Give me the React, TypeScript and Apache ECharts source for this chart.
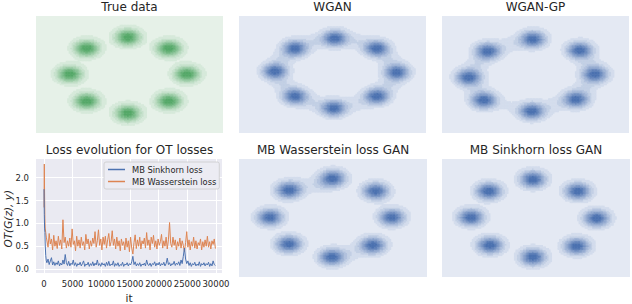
import React, { useEffect, useRef } from "react";
import * as echarts from "echarts";

// ---------- texts ----------
const panelTitles = [
  "True data",
  "WGAN",
  "WGAN-GP",
  "Loss evolution for OT losses",
  "MB Wasserstein loss GAN",
  "MB Sinkhorn loss GAN",
];
const seriesNames = ["MB Sinkhorn loss", "MB Wasserstein loss"];
const yAxisTitle = "OT(G(z), y)";
const xAxisTitle = "it";

// ---------- density panels (plane coordinates of the 8 gaussian modes) ----------
const planeX = [-3.2, 3.2];
const planeY = [-3.08, 3.08];

const trueModes = [
  [-0.05, 1.97], [1.35, 1.39], [1.97, 0.03], [1.35, -1.39],
  [-0.05, -2.03], [-1.46, -1.39], [-2.04, 0.03], [-1.46, 1.39],
];
const wganModes = [
  [0.09, 1.92], [1.52, 1.39], [2.21, 0.13], [1.52, -1.13],
  [0.05, -1.76], [-1.28, -1.13], [-1.97, 0.18], [-1.28, 1.39],
];
const wganBridges = [
  [0.85, 1.74, 0.14], [1.95, 0.8, 0.14], [1.95, -0.55, 0.14], [0.85, -1.52, 0.14],
  [-0.65, -1.52, 0.14], [-1.7, -0.5, 0.14], [-1.7, 0.85, 0.14], [-0.6, 1.74, 0.14],
];
const wganGpModes = [
  [-0.09, 1.87], [1.52, 1.29], [2.04, 0.03], [1.39, -1.29],
  [-0.12, -1.92], [-1.76, -1.34], [-2.28, -0.13], [-1.63, 1.24],
];
const wganGpBridges = [
  [-0.86, 1.58, 0.13], [-1.98, 0.58, 0.13], [1.8, 0.68, 0.12], [1.74, -0.63, 0.13],
  [0.64, -1.62, 0.13], [-0.94, -1.65, 0.08], [-2.04, -0.74, 0.1],
];
const mbWassModes = [
  [0.0, 2.08], [1.46, 1.41], [2.01, 0.05], [1.36, -1.41],
  [-0.03, -2.03], [-1.5, -1.35], [-2.14, 0.05], [-1.5, 1.46],
];
const mbWassBridges = [
  [-0.45, 1.72, 0.15], [0.66, -1.78, 0.12], [-1.15, 1.72, 0.08],
];
const mbSinkModes = [
  [-0.1, 2.03], [1.43, 1.41], [2.07, 0.0], [1.39, -1.46],
  [-0.1, -2.03], [-1.56, -1.41], [-2.21, 0.05], [-1.6, 1.41],
];
const modeSigmas = [0.29, 0.28, 0.29, 0.29, 0.29];
const bridgeSigma = 0.3;
const densityLevels = [0.08, 0.18, 0.28, 0.38, 0.48, 0.58, 0.68, 0.78, 0.88];

// ---------- loss curves ----------
const earlyIters = [0, 50, 100, 150, 200, 300, 400];
const lateIters = Array.from({ length: 148 }, (_, k) => 500 + 200 * k);
const lossIters = [...earlyIters, ...lateIters];

const sinkhornLoss = [
  1.75, 1.2, 0.88, 0.8, 0.55, 0.3, 0.18,
  0.14, 0.22, 0.10, 0.18, 0.25, 0.09, 0.16, 0.08, 0.14, 0.10,
  0.18, 0.07, 0.13, 0.09, 0.20, 0.11, 0.32, 0.14, 0.08, 0.17,
  0.07, 0.13, 0.10, 0.20, 0.08, 0.14, 0.06, 0.12, 0.09, 0.15,
  0.07, 0.12, 0.18, 0.06, 0.11, 0.09, 0.15, 0.06, 0.12, 0.08,
  0.16, 0.07, 0.13, 0.09, 0.20, 0.08, 0.12, 0.06, 0.14, 0.09,
  0.12, 0.06, 0.15, 0.08, 0.17, 0.07, 0.11, 0.09, 0.18, 0.06,
  0.12, 0.08, 0.14, 0.06, 0.10, 0.08, 0.15, 0.06, 0.11, 0.09,
  0.14, 0.07, 0.12, 0.09, 0.16, 0.28, 0.10, 0.16, 0.07, 0.12,
  0.08, 0.14, 0.06, 0.11, 0.09, 0.13, 0.07, 0.20, 0.10, 0.08,
  0.13, 0.06, 0.12, 0.10, 0.16, 0.07, 0.13, 0.09, 0.15, 0.07,
  0.12, 0.09, 0.15, 0.07, 0.12, 0.24, 0.10, 0.14, 0.07, 0.12,
  0.10, 0.17, 0.08, 0.13, 0.10, 0.16, 0.08, 0.20, 0.12, 0.28,
  0.46, 0.22, 0.12, 0.18, 0.08, 0.14, 0.06, 0.12, 0.09, 0.15,
  0.07, 0.11, 0.08, 0.16, 0.06, 0.12, 0.09, 0.14, 0.07, 0.12,
  0.09, 0.15, 0.06, 0.12, 0.07, 0.18, 0.10, 0.08,
];
const wassersteinLoss = [
  1.35, 2.3, 1.6, 1.1, 0.9, 0.8, 0.7,
  0.70, 0.48, 0.78, 0.55, 0.66, 0.42, 0.74, 0.50, 0.62, 0.45,
  0.72, 0.52, 0.64, 0.44, 1.08, 0.58, 0.70, 0.46, 0.62, 0.50,
  0.68, 0.48, 0.88, 0.54, 0.62, 0.40, 0.72, 0.50, 0.64, 0.46,
  0.70, 0.52, 0.60, 0.42, 0.76, 0.55, 0.66, 0.44, 0.62, 0.50,
  0.68, 0.56, 0.82, 0.48, 0.62, 0.86, 0.52, 0.66, 0.42, 0.70,
  0.54, 0.72, 0.46, 0.64, 0.78, 0.50, 0.60, 0.84, 0.52, 0.66,
  0.44, 0.70, 0.50, 0.62, 0.40, 0.66, 0.52, 0.60, 0.42, 0.68,
  0.48, 0.62, 0.38, 0.70, 0.46, 0.33, 0.58, 0.75, 0.45, 0.64,
  0.50, 0.70, 0.44, 0.62, 0.55, 0.68, 0.46, 0.80, 0.52, 0.64,
  0.42, 0.70, 0.56, 0.74, 0.48, 0.62, 0.44, 0.66, 0.52, 0.60,
  0.76, 0.46, 0.62, 0.50, 0.70, 0.44, 0.64, 1.02, 0.56, 0.48,
  0.70, 0.52, 0.64, 0.42, 0.60, 0.50, 0.68, 0.46, 0.62, 0.52,
  0.38, 0.58, 0.82, 0.48, 0.64, 0.42, 0.60, 0.50, 0.70, 0.46,
  0.62, 0.44, 0.58, 0.52, 0.66, 0.42, 0.60, 0.48, 0.64, 0.50,
  0.72, 0.48, 0.60, 0.44, 0.62, 0.54, 0.66, 0.45,
];
const xTicks = [0, 5000, 10000, 15000, 20000, 25000, 30000];
const yTicks = [0, 0.5, 1, 1.5, 2];

// ---------- helpers ----------
const NX = 125;
const NY = 78;

function kdeGrid(modes: number[][], sigma: number, bridges: number[][]) {
  const raw: number[][] = [];
  let max = 0;
  for (let j = 0; j < NY; j++) {
    const y = planeY[0] + ((j + 0.5) * (planeY[1] - planeY[0])) / NY;
    for (let i = 0; i < NX; i++) {
      const x = planeX[0] + ((i + 0.5) * (planeX[1] - planeX[0])) / NX;
      let v = 0;
      for (const m of modes) {
        const d2 = (x - m[0]) ** 2 + (y - m[1]) ** 2;
        v += Math.exp(-d2 / (2 * sigma * sigma));
      }
      for (const b of bridges) {
        const d2 = (x - b[0]) ** 2 + (y - b[1]) ** 2;
        v += b[2] * Math.exp(-d2 / (2 * bridgeSigma * bridgeSigma));
      }
      raw.push([i, j, v]);
      if (v > max) max = v;
    }
  }
  return raw
    .map((c) => [c[0], c[1], c[2] / max])
    .filter((c) => c[2] >= densityLevels[0]);
}

function hex(c: string) {
  return [1, 3, 5].map((k) => parseInt(c.slice(k, k + 2), 16));
}
function mix(a: string, b: string, t: number) {
  const A = hex(a);
  const B = hex(b);
  const r = A.map((v, k) => Math.round(v + (B[k] - v) * t));
  return `rgb(${r[0]},${r[1]},${r[2]})`;
}
function pieces(bg: string, full: string) {
  return densityLevels.map((lv, k) => ({
    gte: lv,
    lt: k === densityLevels.length - 1 ? 10 : densityLevels[k + 1],
    color: mix(bg, full, (k + 1) / densityLevels.length),
  }));
}

const FONT = "DejaVu Sans";
const TXT = "#262626";
const GREEN_BG = "#E6F1E8";
const BLUE_BG = "#E4E9F3";

const layerStyle: React.CSSProperties = {
  position: "absolute",
  left: 0,
  top: 0,
  width: 632,
  height: 304,
};

export default function App() {
  const densRef = useRef<HTMLDivElement>(null);
  const lossRef = useRef<HTMLDivElement>(null);

  useEffect(() => {
    if (!densRef.current || !lossRef.current) return;

    // ---------- density panels, titles ----------
    const dens = echarts.init(densRef.current, undefined, { renderer: "svg" });
    const densGrids = [
      { left: 36, top: 16, width: 187, height: 117 },
      { left: 239, top: 16, width: 187, height: 117 },
      { left: 442, top: 16, width: 187, height: 117 },
      { left: 239, top: 159, width: 188, height: 118 },
      { left: 442, top: 159, width: 188, height: 118 },
    ];
    const densBgs = [GREEN_BG, BLUE_BG, BLUE_BG, BLUE_BG, BLUE_BG];
    const panels = [
      { modes: trueModes, sigma: modeSigmas[0], bridges: [] as number[][] },
      { modes: wganModes, sigma: modeSigmas[1], bridges: wganBridges },
      { modes: wganGpModes, sigma: modeSigmas[2], bridges: wganGpBridges },
      { modes: mbWassModes, sigma: modeSigmas[3], bridges: mbWassBridges },
      { modes: mbSinkModes, sigma: modeSigmas[4], bridges: [] as number[][] },
    ];
    const titleCenters = [
      [129.5, 1], [332.5, 1], [535.5, 1],
      [129.5, 144], [333, 144], [536, 144],
    ];
    const cats = (n: number) => Array.from({ length: n }, (_, k) => k);

    dens.setOption({
      animation: false,
      backgroundColor: "#ffffff",
      title: panelTitles.map((t, k) => ({
        text: t,
        left: titleCenters[k][0],
        top: titleCenters[k][1],
        textAlign: "center",
        padding: 0,
        textStyle: { fontSize: 12, fontWeight: "normal", color: TXT, fontFamily: FONT },
      })),
      grid: densGrids.map((r, k) => ({
        ...r,
        show: true,
        backgroundColor: densBgs[k],
        borderWidth: 0,
      })),
      xAxis: densGrids.map((_, k) => ({
        gridIndex: k, type: "category", data: cats(NX), show: false,
      })),
      yAxis: densGrids.map((_, k) => ({
        gridIndex: k, type: "category", data: cats(NY), show: false,
      })),
      visualMap: [
        {
          type: "piecewise", show: false, seriesIndex: 0, dimension: 2,
          pieces: pieces(GREEN_BG, "#55A868"),
        },
        {
          type: "piecewise", show: false, seriesIndex: [1, 2, 3, 4], dimension: 2,
          pieces: pieces(BLUE_BG, "#4C72B0"),
        },
      ],
      series: panels.map((p, k) => ({
        type: "heatmap",
        xAxisIndex: k,
        yAxisIndex: k,
        data: kdeGrid(p.modes, p.sigma, p.bridges),
        progressive: 0,
        silent: true,
        emphasis: { disabled: true },
      })),
    });

    // ---------- loss curves ----------
    const loss = echarts.init(lossRef.current, undefined, { renderer: "svg" });
    const lineColors = ["#4C72B0", "#DD8452"];
    loss.setOption({
      animation: false,
      grid: [{
        left: 36, top: 159, width: 186, height: 118,
        show: true, backgroundColor: "#EAEAF2", borderWidth: 0,
      }],
      graphic: [
        {
          type: "text",
          left: 2,
          top: 190,
          rotation: Math.PI / 2,
          silent: true,
          style: {
            text: yAxisTitle,
            fontSize: 10.5,
            fontStyle: "italic",
            fontFamily: FONT,
            fill: TXT,
          },
        },
      ],
      xAxis: [{
        type: "value", min: -1400, max: 31050,
        axisLine: { show: false },
        axisTick: { show: false, customValues: xTicks },
        axisLabel: {
          customValues: xTicks, fontSize: 8.5, color: TXT, fontFamily: FONT, margin: 6,
          formatter: (v: number) => String(v),
        },
        splitLine: { show: true, lineStyle: { color: "#ffffff", width: 1 } },
        name: xAxisTitle, nameLocation: "middle", nameGap: 19,
        nameTextStyle: { fontSize: 10.5, color: TXT, fontFamily: FONT },
      }],
      yAxis: [{
        type: "value", min: -0.085, max: 2.41,
        axisLine: { show: false },
        axisTick: { show: false, customValues: yTicks },
        axisLabel: {
          customValues: yTicks, fontSize: 8.5, color: TXT, fontFamily: FONT, margin: 7,
          formatter: (v: number) => v.toFixed(1),
        },
        splitLine: { show: true, lineStyle: { color: "#ffffff", width: 1 } },
      }],
      legend: {
        data: seriesNames,
        orient: "vertical",
        left: 104,
        top: 162,
        icon: "rect",
        itemWidth: 17,
        itemHeight: 1.5,
        itemGap: 2,
        padding: [2.5, 3, 2.5, 4],
        backgroundColor: "#ECECF3",
        borderColor: "#cccccc",
        borderWidth: 0.8,
        borderRadius: 2,
        textStyle: {
          fontSize: 8.3, lineHeight: 10, color: TXT, fontFamily: FONT,
          padding: [0, 0, 0, 2],
        },
      },
      series: [sinkhornLoss, wassersteinLoss].map((vals, s) => ({
        type: "line",
        name: seriesNames[s],
        data: lossIters.map((x, i) => [x, vals[i]]),
        symbol: "none",
        showSymbol: false,
        lineStyle: { color: lineColors[s], width: 1 },
        itemStyle: { color: lineColors[s] },
        z: 3 - s,
      })),
    });

    return () => {
      dens.dispose();
      loss.dispose();
    };
  }, []);

  return (
    <div style={layerStyle}>
      <div ref={densRef} style={layerStyle} />
      <div ref={lossRef} style={layerStyle} />
    </div>
  );
}
